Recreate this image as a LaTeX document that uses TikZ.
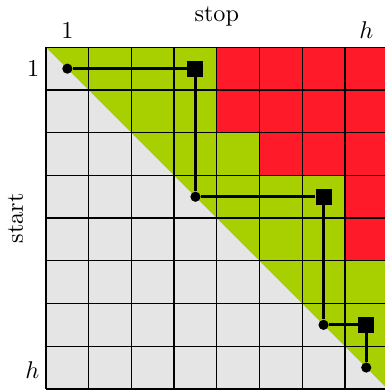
\documentclass[tikz,border=0pt]{standalone}
\definecolor{lowgray}{RGB}{229,229,229}
\definecolor{upgreen}{RGB}{168,207,0}
\definecolor{cellred}{RGB}{255,26,42}
\begin{document}
\begin{tikzpicture}[x=0.62cm, y=0.62cm,
    dot/.style={circle, fill=black, inner sep=0pt, minimum size=4.2pt},
    box/.style={rectangle, fill=black, inner sep=0pt, minimum size=6.6pt}]
    \useasboundingbox (-1.077,-8.049) rectangle (7.916,1.108);
    % Lower and upper halves
    \fill [lowgray] (0,0) -- (0,-8) -- (8,-8) -- cycle;
    \fill [upgreen] (0,0) -- (8,0) -- (8,-8) -- cycle;
    % Red cells
    \fill [cellred] (4,0) rectangle (8,-2);
    \fill [cellred] (5,-2) rectangle (8,-3);
    \fill [cellred] (7,-3) rectangle (8,-5);
    % Grid
    \draw [step=1, line width=0.55pt] (0,-8) grid (8,0);
    % Labels
    \node (stop) at (4,0.73) {stop};
    \node [rotate=90] (start) at (-0.71,-4) {start};
    \node [above] (top1) at (0.5,0) {1};
    \node [above] (toph) at (7.5,0) {$h$};
    \node [left, inner sep=2.6pt] (left1) at (0,-0.5) {1};
    \node [left, inner sep=2.6pt] (lefth) at (0,-7.55) {$h$};
    % Path
    \node [dot] (d1) at (0.5,-0.5) {};
    \node [box] (s1) at (3.5,-0.5) {};
    \node [dot] (d2) at (3.5,-3.5) {};
    \node [box] (s2) at (6.5,-3.5) {};
    \node [dot] (d3) at (6.5,-6.5) {};
    \node [box] (s3) at (7.5,-6.5) {};
    \node [dot] (d4) at (7.5,-7.5) {};
    \draw [line width=1.3pt] (d1) -- (s1) -- (d2) -- (s2) -- (d3) -- (s3) -- (d4);
\end{tikzpicture}
\end{document}
